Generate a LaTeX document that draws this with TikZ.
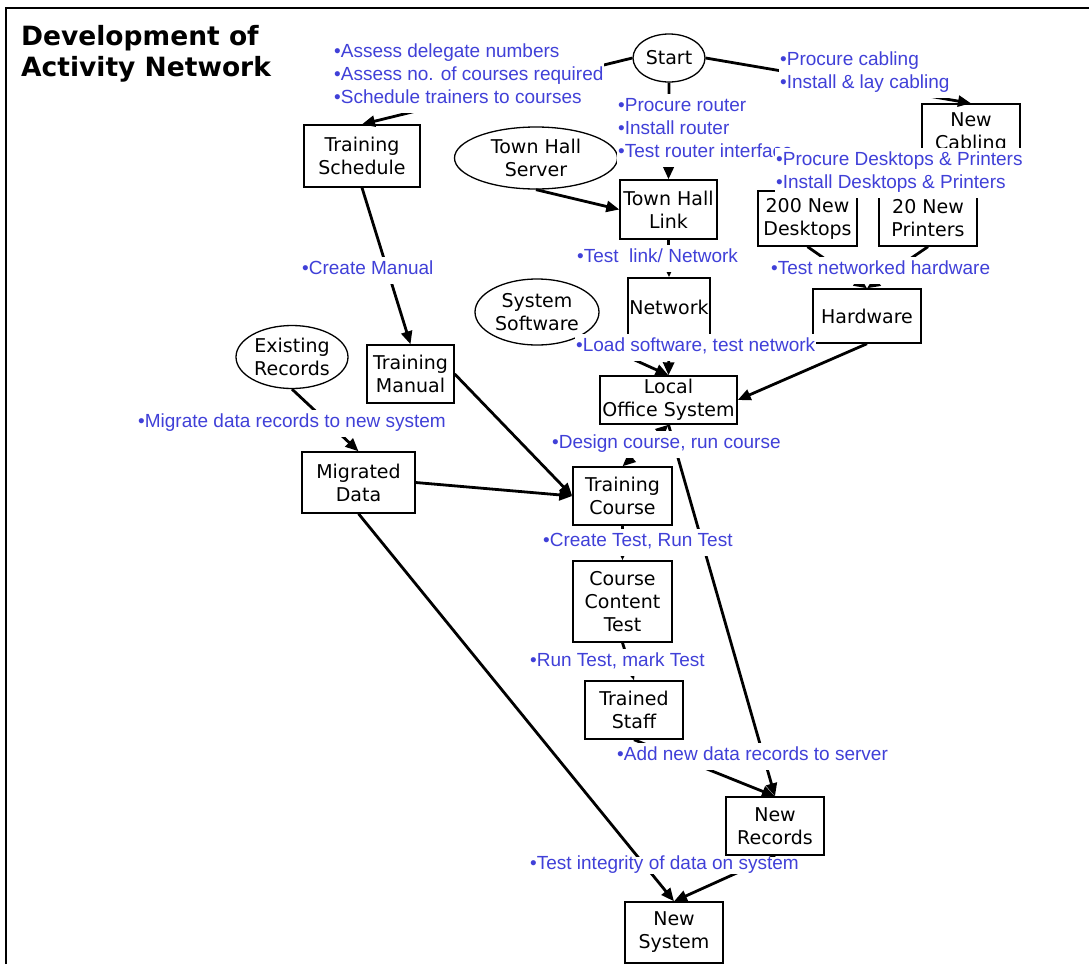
\documentclass[tikz,border=0pt]{standalone}
\usepackage{fontspec}
\setmainfont{DejaVu Sans}
\newfontfamily\notefamily{Liberation Sans}
\usetikzlibrary{shapes.geometric,arrows.meta}
\definecolor{noteblue}{RGB}{64,64,216}
\newcommand\nodetextfont{\fontsize{19}{23}\selectfont}
\newcommand\annotfont{\notefamily\fontsize{19}{23}\selectfont}
\newcommand\titlefont{\fontsize{26.5}{31}\selectfont\bfseries}
\pgfdeclarelayer{edges}
\pgfsetlayers{edges,main}
\tikzset{
  box/.style={draw, rectangle, line width=1.4pt, inner sep=0pt, align=center, font=\nodetextfont},
  oval/.style={draw, ellipse, line width=1.3pt, inner sep=0pt, align=center, font=\nodetextfont},
  note/.style={fill=white, inner xsep=1pt, inner ysep=2pt, anchor=west, align=left, text=noteblue, font=\annotfont},
  flow/.style={line width=2.8pt, -{Triangle[length=13pt,width=11pt]}},
  twoway/.style={line width=2.8pt, {Triangle[length=13pt,width=11pt]}-{Triangle[length=13pt,width=11pt]}}
}
\begin{document}
\begin{tikzpicture}[x=1pt,y=-1pt]
\useasboundingbox (0,0) rectangle (1089,964);

% frame edges
\draw[line width=2pt] (6,964) -- (6,8) -- (1089,8);

% title
\node[anchor=west, align=left, inner sep=0pt, font=\titlefont] (title) at (21,54.5)
  {\strut Development of\\\strut Activity Network};

% event ovals
\node[oval, minimum width=72pt, minimum height=48pt] (start) at (669,58) {Start};
\node[oval, minimum width=163pt, minimum height=62pt] (server) at (536,158) {Town Hall\\Server};
\node[oval, minimum width=124pt, minimum height=66pt] (software) at (537,312) {System\\Software};
\node[oval, minimum width=112pt, minimum height=63pt] (existing) at (292,357) {Existing\\Records};

% activity boxes
\node[box, minimum width=116pt, minimum height=62pt] (tsched) at (362,156) {Training\\Schedule};
\node[box, minimum width=98pt, minimum height=78pt] (cabling) at (971,143) {New\\Cabling\\\mbox{}};
\node[box, minimum width=97pt, minimum height=59pt] (link) at (668.5,209.5) {Town Hall\\Link};
\node[box, minimum width=99pt, minimum height=55pt] (desktops) at (807.5,218.5) {200 New\\Desktops};
\node[box, minimum width=98pt, minimum height=55pt] (printers) at (928,218.5) {20 New\\Printers};
\node[box, minimum width=82pt, minimum height=58pt] (network) at (669,307) {Network};
\node[box, minimum width=108pt, minimum height=54pt] (hardware) at (867,316) {Hardware};
\node[box, minimum width=137pt, minimum height=48pt] (los) at (668.5,400) {Local\\Office System};
\node[box, minimum width=87pt, minimum height=58pt] (manual) at (410.5,374) {Training\\Manual};
\node[box, minimum width=113pt, minimum height=61pt] (migrated) at (358.5,482.5) {Migrated\\Data};
\node[box, minimum width=99pt, minimum height=58pt] (course) at (622.5,496) {Training\\Course};
\node[box, minimum width=99pt, minimum height=81pt] (cct) at (622.5,601.5) {Course\\Content\\Test};
\node[box, minimum width=98pt, minimum height=58pt] (staff) at (634,710) {Trained\\Staff};
\node[box, minimum width=98pt, minimum height=61pt] (newsys) at (674,932.5) {New\\System};

% activity notes
\node[note] (n-assess) at (333,76.2)
  {\strut•Assess delegate numbers\\\strut•Assess no. of courses required\\\strut•Schedule trainers to courses};
\node[note] (n-cable) at (779,72.7)
  {\strut•Procure cabling\\\strut•Install \& lay cabling};
\node[note] (n-router) at (617,130.2)
  {\strut•Procure router\\\strut•Install router\\\strut•Test router interface};
\node[note] (n-desk) at (775,172.7)
  {\strut•Procure Desktops \& Printers\\\strut•Install Desktops \& Printers};
\node[note] (n-manual) at (301,270.2) {\strut•Create Manual};
\node[note] (n-testlink) at (576,258.2) {\strut•Test\ \ link/ Network};
\node[note] (n-testhw) at (770,270.2) {\strut•Test networked hardware};
\node[note] (n-load) at (575,347.2) {\strut•Load software, test network};
\node[note] (n-migrate) at (137,423.2) {\strut•Migrate data records to new system};
\node[note] (n-design) at (551,444.2) {\strut•Design course, run course};
\node[note] (n-create) at (542,542.2) {\strut•Create Test, Run Test};
\node[note] (n-run) at (529,662.2) {\strut•Run Test, mark Test};
\node[note] (n-add) at (616,756.2) {\strut•Add new data records to server};
\node[note, inner ysep=-3pt] (n-integ) at (529,865.2) {\strut•Test integrity of data on system};

\node[box, minimum width=98pt, minimum height=58pt] (newrec) at (775,826) {New\\Records};

% dependencies
\begin{pgfonlayer}{edges}
\draw[flow] (start.west) -- (tsched.north);
\draw[flow] (start.east) -- (cabling.north);
\draw[flow] (start.south) -- (link.north);
\draw[flow] (cabling.south) -- (desktops.north);
\draw[flow] (cabling.south) -- (printers.north);
\draw[flow] (server.south) -- (link.west);
\draw[flow] (link.south) -- (network.north);
\draw[flow] (desktops.south) -- (hardware.north);
\draw[flow] (printers.south) -- (hardware.north);
\draw[flow] (software.south east) -- (los.north);
\draw[flow] (network.south) -- (los.north);
\draw[flow] (hardware.south) -- (los.east);
\draw[flow] (tsched.south) -- (manual.north);
\draw[flow] (manual.east) -- (course.west);
\draw[flow] (existing.south) -- (migrated.north);
\draw[flow] (migrated.east) -- (course.west);
\draw[flow] (migrated.south) -- (newsys.north);
\draw[twoway] (los.south) -- (course.north);
\draw[flow] (los.south) -- (newrec.north);
\draw[flow] (course.south) -- (cct.north);
\draw[flow] (cct.south) -- (staff.north);
\draw[flow] (staff.south) -- (newrec.north);
\draw[flow] (newrec.south) -- (newsys.north);
\end{pgfonlayer}
\end{tikzpicture}
\end{document}
